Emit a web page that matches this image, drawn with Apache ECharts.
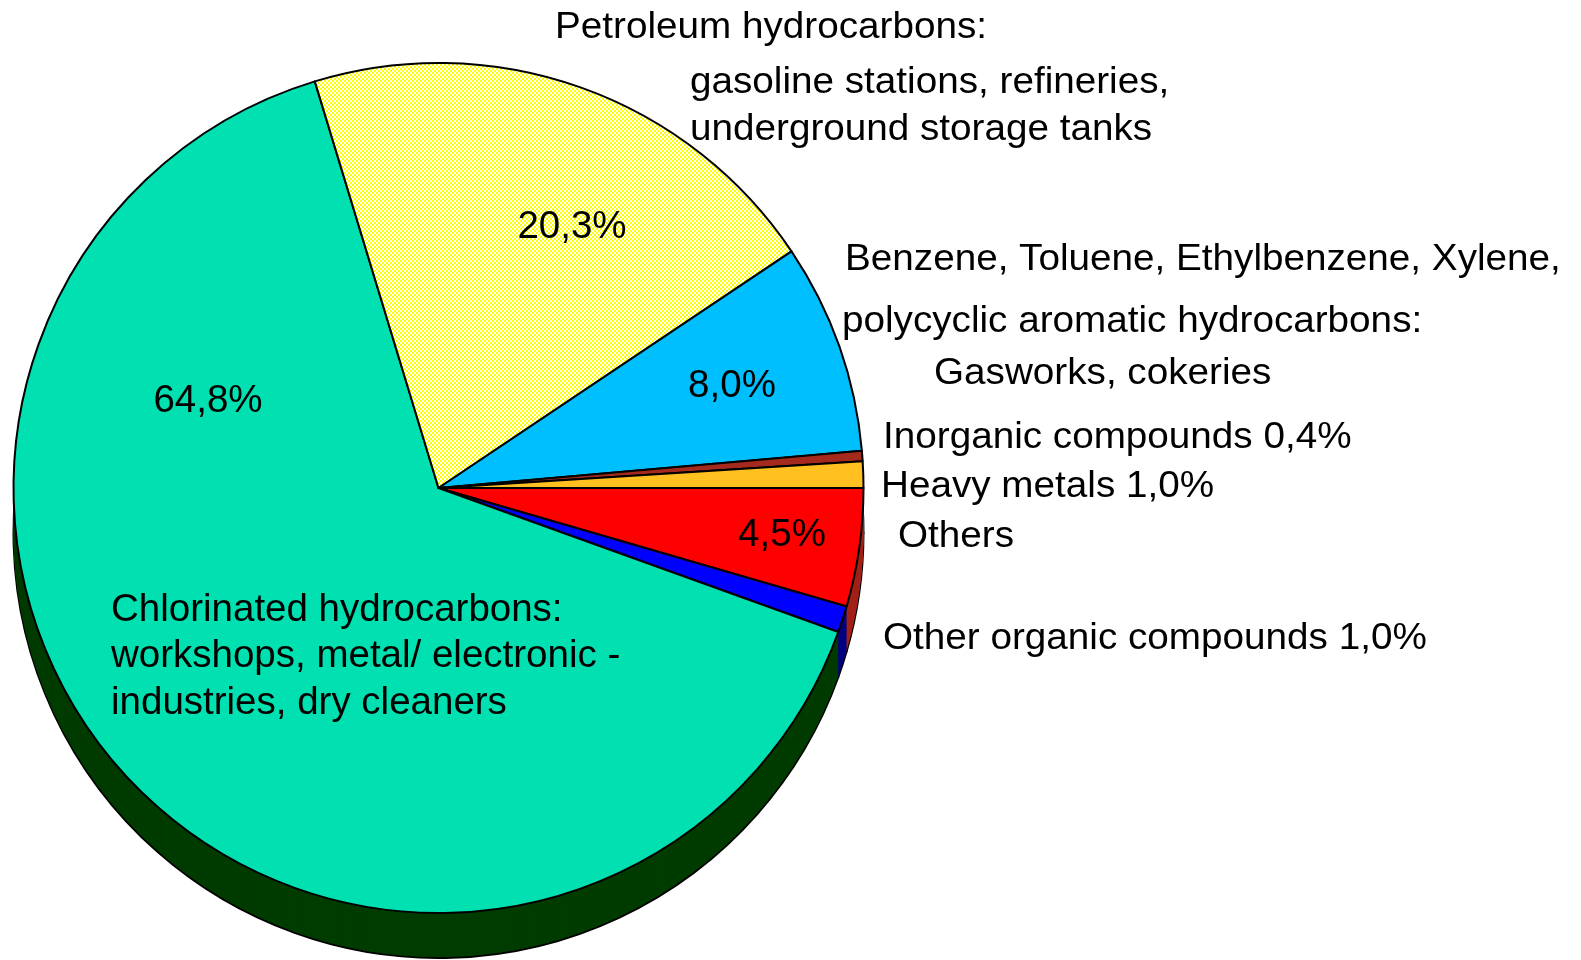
<!DOCTYPE html>
<html>
<head>
<meta charset="utf-8">
<title>Contaminant groups at contaminated sites</title>
<script src="https://cdn.jsdelivr.net/npm/echarts@6/dist/echarts.min.js"></script>
<style>
  html, body { margin: 0; padding: 0; background: #ffffff; }
  #chart { width: 1581px; height: 960px; }
</style>
</head>
<body>
<div id="chart"></div>
<script>
// Contaminant groups, clockwise from the 3 o'clock position
const categories = [
  'Others',
  'Other organic compounds',
  'Chlorinated hydrocarbons',
  'Petroleum hydrocarbons',
  'Benzene, Toluene, Ethylbenzene, Xylene',
  'Inorganic compounds',
  'Heavy metals'
];
const shares = [4.5, 1.0, 64.8, 20.3, 8.0, 0.4, 1.0];

// Descriptive label lines for each group
const descriptions = [
  ['Others'],
  ['Other organic compounds {v}'],
  ['Chlorinated hydrocarbons:', 'workshops, metal/ electronic -', 'industries, dry cleaners'],
  ['Petroleum hydrocarbons:', 'gasoline stations, refineries,', 'underground storage tanks'],
  ['Benzene, Toluene, Ethylbenzene, Xylene,', 'polycyclic aromatic hydrocarbons:', 'Gasworks, cokeries'],
  ['Inorganic compounds {v}'],
  ['Heavy metals {v}']
];

// Slice colours (top face) and side colours (extruded rim)
const topColors = ['#ff0000', '#0000ff', '#00e0b0', null, '#00bfff', '#a52a1e', '#ffc020'];
const sideColors = ['#a2201a', '#000080', '#003c00', '#8a8a00', '#005f80', '#521510', '#806010'];

// Yellow/white checker fill for the petroleum slice
function checker() {
  const c = document.createElement('canvas');
  c.width = 4; c.height = 4;
  const g = c.getContext('2d');
  g.fillStyle = '#ffffff'; g.fillRect(0, 0, 4, 4);
  g.fillStyle = '#ffff00';
  g.fillRect(0, 0, 2, 2);
  g.fillRect(2, 2, 2, 2);
  return c;
}
const yellowPattern = { image: checker(), repeat: 'repeat' };

const pct = v => v.toFixed(1).replace('.', ',') + '%';

const CX = 438.5, CY = 488, R = 425, DEPTH = 45;
const FONT_IN = '38.5px "Liberation Sans", Arial, sans-serif';
const FONT_OUT = '37px "Liberation Sans", Arial, sans-serif';
const OUT_STRETCH = 1.045;

function pieSeries(offset, colorOf, border) {
  return {
    type: 'pie',
    center: [CX, CY + offset],
    radius: R,
    startAngle: 0,
    clockwise: true,
    silent: true,
    animation: false,
    label: { show: false },
    labelLine: { show: false },
    emphasis: { disabled: true },
    itemStyle: border ? { borderColor: '#000', borderWidth: 2 } : { borderWidth: 0 },
    data: categories.map((name, i) => ({
      name: name,
      value: shares[i],
      itemStyle: { color: colorOf(i) }
    }))
  };
}

const series = [];
// Rim: outlined bottom layer, then fill layers stacked up to the top face
series.push(pieSeries(DEPTH, i => sideColors[i], true));
for (let d = DEPTH - 1; d >= 1; d--) {
  series.push(pieSeries(d, i => sideColors[i], false));
}
// Top face
series.push(pieSeries(0, i => (topColors[i] === null ? yellowPattern : topColors[i]), true));

// Label placement: [group index, line index, x, y, outside?]
const descLayout = [
  [3, 0, 555, 28, true],
  [3, 1, 690, 83, true],
  [3, 2, 690, 130, true],
  [4, 0, 845, 260, true],
  [4, 1, 842, 322, true],
  [4, 2, 934, 374, true],
  [5, 0, 883, 438, true],
  [6, 0, 881, 487, true],
  [0, 0, 898, 537, true],
  [1, 0, 883, 639, true],
  [2, 0, 111, 610, false],
  [2, 1, 111, 656, false],
  [2, 2, 111, 703, false]
];
// Percentage labels inside slices: [group index, x, y]
const pctLayout = [
  [3, 572, 227],
  [4, 732, 386],
  [0, 782, 535],
  [2, 208, 401]
];

const graphics = [];
descLayout.forEach(([gi, li, x, y, outside]) => {
  graphics.push({
    type: 'text', x: x, y: y, silent: true, z: 100,
    scaleX: outside ? OUT_STRETCH : 1,
    style: {
      text: descriptions[gi][li].replace('{v}', pct(shares[gi])),
      font: outside ? FONT_OUT : FONT_IN,
      fill: '#000', align: 'left', verticalAlign: 'middle'
    }
  });
});
pctLayout.forEach(([gi, x, y]) => {
  graphics.push({
    type: 'text', x: x, y: y, silent: true, z: 100,
    style: {
      text: pct(shares[gi]),
      font: FONT_IN, fill: '#000', align: 'center', verticalAlign: 'middle'
    }
  });
});

const chart = echarts.init(document.getElementById('chart'), null, { renderer: 'canvas' });
chart.setOption({
  backgroundColor: '#ffffff',
  animation: false,
  tooltip: { show: false },
  series: series,
  graphic: graphics
});
</script>
</body>
</html>
